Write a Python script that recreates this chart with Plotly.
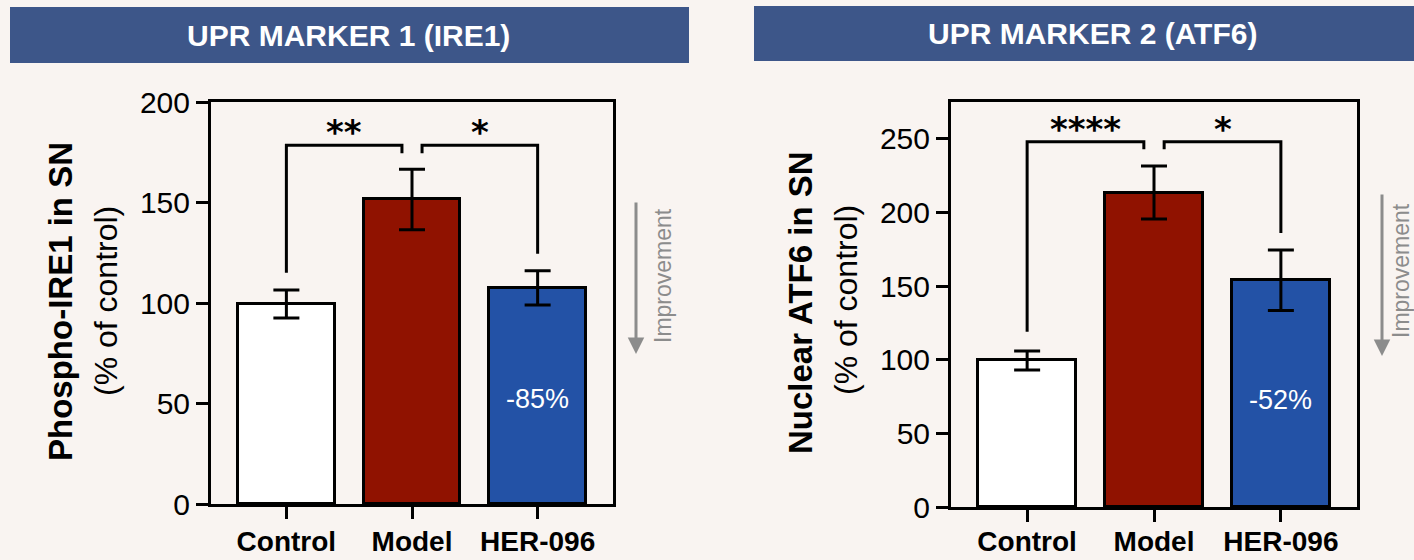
import plotly.graph_objects as go

# ---- data -------------------------------------------------------------
categories = ["Control", "Model", "HER-096"]

ire1_mean = [99.5, 151.5, 107.5]
ire1_sem = [7, 15, 8.5]
ire1_ticks = [0, 50, 100, 150, 200]

atf6_mean = [99.5, 213.5, 154]
atf6_sem = [6.5, 18, 20.5]
atf6_ticks = [0, 50, 100, 150, 200, 250]

# significance brackets: (label, left group, right group, bar height, left leg end, right leg end)
ire1_brackets = [("**", 0, 1, 178.5, 115, 174.5), ("*", 1, 2, 178.5, 174.5, 124.5)]
atf6_brackets = [("****", 0, 1, 248, 119, 243), ("*", 1, 2, 248, 243, 186)]

ire1_change = "-85%"
atf6_change = "-52%"
ire1_change_y = 52
atf6_change_y = 72.5

panel_titles = ["UPR MARKER 1 (IRE1)", "UPR MARKER 2 (ATF6)"]
y_titles = [("Phospho-IRE1 in SN", "(% of control)"), ("Nuclear ATF6 in SN", "(% of control)")]
arrow_text = "Improvement"

# ---- style ------------------------------------------------------------
W, H = 1414, 560
BG = "#F9F4F1"
HEADER = "#3D5689"
BAR_COLORS = ["#FFFFFF", "#901200", "#2352A6"]
FONT = "Arial, Liberation Sans, sans-serif"
GREY = "#8C8C8C"


def px_x(px):
    return px / W


def px_y(py):
    return 1 - py / H


fig = go.Figure()

panels = [
    dict(mean=ire1_mean, sem=ire1_sem, ticks=ire1_ticks, yr=[0, 200], br=ire1_brackets,
         change=ire1_change, change_y=ire1_change_y,
         xdom=[211, 613], ydom=[504, 102], xa="x", ya="y", standoff=-2),
    dict(mean=atf6_mean, sem=atf6_sem, ticks=atf6_ticks, yr=[0, 275], br=atf6_brackets,
         change=atf6_change, change_y=atf6_change_y,
         xdom=[951, 1357], ydom=[507, 102], xa="x2", ya="y2", standoff=-5),
]

xs = list(range(len(categories)))
shapes = []
annotations = []

for i, p in enumerate(panels):
    fig.add_trace(go.Bar(
        x=xs, y=p["mean"], width=0.77,
        marker=dict(color=BAR_COLORS, line=dict(color="black", width=3)),
        error_y=dict(type="data", array=p["sem"], visible=True,
                     color="black", thickness=3, width=13),
        xaxis=p["xa"], yaxis=p["ya"], showlegend=False, hoverinfo="skip",
    ))

    axis_suffix = "" if i == 0 else "2"
    fig.update_layout(**{
        "xaxis" + axis_suffix: dict(
            domain=[px_x(p["xdom"][0]), px_x(p["xdom"][1])],
            range=[-0.6, 2.6], tickvals=xs, ticktext=categories,
            showline=True, linecolor="black", linewidth=3, mirror=True,
            ticks="outside", ticklen=12, tickwidth=3, tickcolor="black",
            tickfont=dict(family=FONT, size=28, color="black", weight="bold"),
            ticklabelstandoff=p["standoff"],
            showgrid=False, zeroline=False, fixedrange=True, automargin=False,
            anchor=p["ya"],
        ),
        "yaxis" + axis_suffix: dict(
            domain=[px_y(p["ydom"][0]), px_y(p["ydom"][1])],
            range=p["yr"], tickvals=p["ticks"],
            showline=True, linecolor="black", linewidth=3, mirror=True,
            ticks="outside", ticklen=12, tickwidth=3, tickcolor="black",
            tickfont=dict(family=FONT, size=30, color="black"),
            showgrid=False, zeroline=False, fixedrange=True, automargin=False,
            anchor=p["xa"],
        ),
    })

    # significance brackets
    gap = 0.08
    for label, a, b, top, left_end, right_end in p["br"]:
        xa0 = a + (gap if a == 1 else 0)
        xb0 = b - (gap if b == 1 else 0)
        path = f"M {xa0},{left_end} L {xa0},{top} L {xb0},{top} L {xb0},{right_end}"
        shapes.append(dict(type="path", path=path, xref=p["xa"], yref=p["ya"],
                           line=dict(color="black", width=3)))
        annotations.append(dict(
            x=(xa0 + xb0) / 2, y=top, xref=p["xa"], yref=p["ya"],
            text=f"<b>{label}</b>", showarrow=False,
            xanchor="center", yanchor="bottom", yshift=-9,
            font=dict(family="DejaVu Sans", size=34, color="black"),
        ))

    # change label inside the treated bar
    annotations.append(dict(
        x=2, y=p["change_y"], xref=p["xa"], yref=p["ya"], text=p["change"],
        showarrow=False, xanchor="center", yanchor="middle",
        font=dict(family=FONT, size=27, color="white"),
    ))

# ---- headers ------------------------------------------------------------
headers = [((10, 689, 7, 63), 348), ((754, 1414, 6, 61), 1092)]
for (x0, x1, y0, y1), tx in headers:
    shapes.append(dict(type="rect", xref="paper", yref="paper",
                       x0=px_x(x0), x1=px_x(x1), y0=px_y(y1), y1=px_y(y0),
                       fillcolor=HEADER, line=dict(width=0), layer="below"))
for ((x0, x1, y0, y1), tx), title in zip(headers, panel_titles):
    annotations.append(dict(
        x=px_x(tx), y=px_y((y0 + y1) / 2), xref="paper", yref="paper",
        text=f"<b>{title}</b>", showarrow=False,
        xanchor="center", yanchor="middle",
        font=dict(family=FONT, size=30, color="white"),
    ))

# ---- y-axis titles ----------------------------------------------------------
title_pos = [((60, 302), (106, 301)), ((800, 303), (846, 300))]
for (bold_pos, reg_pos), (line1, line2) in zip(title_pos, y_titles):
    annotations.append(dict(
        x=px_x(bold_pos[0]), y=px_y(bold_pos[1]), xref="paper", yref="paper",
        text=f"<b>{line1}</b>", textangle=-90, showarrow=False,
        xanchor="center", yanchor="middle",
        font=dict(family=FONT, size=33, color="black"),
    ))
    annotations.append(dict(
        x=px_x(reg_pos[0]), y=px_y(reg_pos[1]), xref="paper", yref="paper",
        text=line2, textangle=-90, showarrow=False,
        xanchor="center", yanchor="middle",
        font=dict(family=FONT, size=32, color="black"),
    ))

# ---- "Improvement" arrows ----------------------------------------------------
arrows = [((636, 201, 354), (663, 276)), ((1382, 193, 356), (1401, 271))]
for (ax_px, y_top, y_tip), (tx, ty) in arrows:
    annotations.append(dict(
        x=px_x(ax_px), y=px_y(y_tip), xref="paper", yref="paper",
        ax=0, ay=-(y_tip - y_top), text="", showarrow=True,
        arrowhead=2, arrowsize=1.1, arrowwidth=3, arrowcolor=GREY,
    ))
    annotations.append(dict(
        x=px_x(tx), y=px_y(ty), xref="paper", yref="paper",
        text=arrow_text, textangle=-90, showarrow=False,
        xanchor="center", yanchor="middle",
        font=dict(family=FONT, size=23, color=GREY),
    ))

fig.update_layout(
    width=W, height=H, margin=dict(l=0, r=0, t=0, b=0, autoexpand=False),
    paper_bgcolor=BG, plot_bgcolor=BG,
    shapes=shapes, annotations=annotations, bargap=0,
)

fig.write_html("out.html", config={"displayModeBar": False})
